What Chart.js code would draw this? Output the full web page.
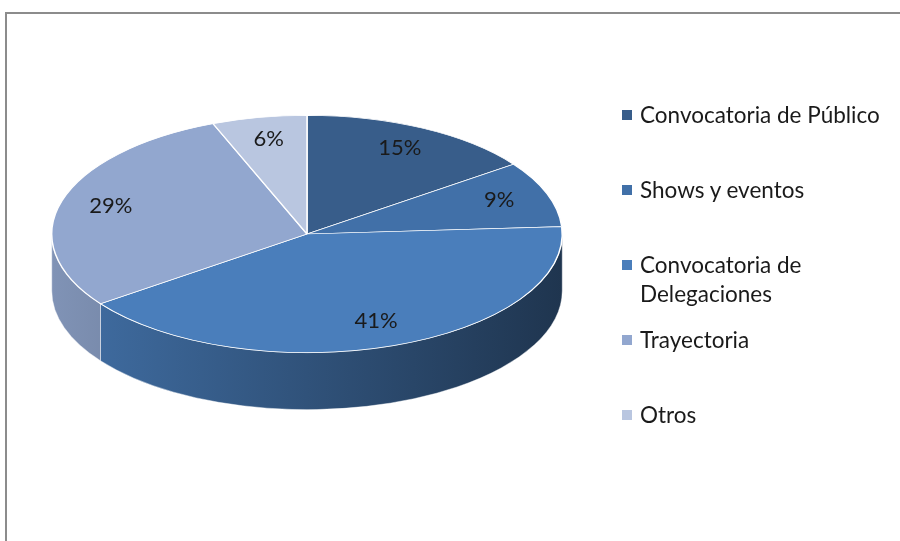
<!DOCTYPE html>
<html lang="es">
<head>
  <meta charset="UTF-8" />
  <title>Distribución</title>
  <script src="https://cdn.jsdelivr.net/npm/chart.js"></script>
  <style>
    body {
      margin: 0;
      width: 900px;
      height: 541px;
      overflow: hidden;
      background: #fff;
      font-family: Lato, "Open Sans", sans-serif;
      position: relative;
    }
    .frame {
      position: absolute;
      left: 5px;
      top: 12px;
      width: 1000px;
      height: 600px;
      border: 2px solid #8c8c8c;
      box-sizing: border-box;
    }
    #chart {
      position: absolute;
      left: 0;
      top: 0;
    }
    .legend-item {
      position: absolute;
      left: 622px;
      width: 275px;
      font-size: 22.5px;
      line-height: 29px;
      color: #1a1a1a;
    }
    .legend-item .box {
      position: absolute;
      left: 0;
      top: 10px;
      width: 10px;
      height: 10px;
    }
    .legend-item .txt {
      margin-left: 18px;
      width: 257px;
    }
  </style>
</head>
<body>
  <div class="frame"></div>
  <canvas id="chart" width="900" height="541"></canvas>
  <div id="legend"></div>

  <script>
    const labels = ['Convocatoria de Público', 'Shows y eventos', 'Convocatoria de Delegaciones', 'Trayectoria', 'Otros'];
    const values = [15, 9, 41, 29, 6];
    const colors = ['#385d8a', '#4170a8', '#4a7ebb', '#92a7cf', '#b9c6e0'];

    // tilt of the pie and thickness of its wall, in screen pixels
    const tilt = 119 / 256;
    const depth = 57;
    const centerY = 234;

    function shade(hex, f) {
      const n = parseInt(hex.slice(1), 16);
      const r = Math.round(((n >> 16) & 255) * f);
      const g = Math.round(((n >> 8) & 255) * f);
      const b = Math.round((n & 255) * f);
      return `rgb(${r},${g},${b})`;
    }

    const pie3d = {
      id: 'pie3d',
      beforeDatasetsDraw(chart) {
        const ctx = chart.ctx;
        const arcs = chart.getDatasetMeta(0).data;
        const cx = arcs[0].x, cy = arcs[0].y, R = arcs[0].outerRadius;
        ctx.save();
        ctx.translate(0, centerY);
        ctx.scale(1, tilt);
        ctx.translate(0, -cy);
        const d = depth / tilt;
        arcs.forEach((arc, i) => {
          const a0 = Math.max(arc.startAngle, 0);
          const a1 = Math.min(arc.endAngle, Math.PI);
          if (a0 >= a1) return;
          const grad = ctx.createLinearGradient(cx - R, 0, cx + R, 0);
          grad.addColorStop(0, shade(colors[i], 0.88));
          grad.addColorStop(1, shade(colors[i], 0.42));
          ctx.beginPath();
          ctx.arc(cx, cy, R, a0, a1);
          ctx.lineTo(cx + R * Math.cos(a1), cy + R * Math.sin(a1) + d);
          ctx.arc(cx, cy + d, R, a1, a0, true);
          ctx.closePath();
          ctx.fillStyle = grad;
          ctx.fill();
          ctx.strokeStyle = 'rgba(255,255,255,0.6)';
          ctx.lineWidth = 1;
          ctx.stroke();
        });
      },
      afterDatasetsDraw(chart) {
        const ctx = chart.ctx;
        ctx.restore();
        const arcs = chart.getDatasetMeta(0).data;
        const total = values.reduce((a, b) => a + b, 0);
        ctx.save();
        ctx.font = '22px Lato, "Open Sans", sans-serif';
        ctx.fillStyle = '#1a1a1a';
        ctx.textAlign = 'center';
        ctx.textBaseline = 'middle';
        arcs.forEach((arc, i) => {
          const mid = (arc.startAngle + arc.endAngle) / 2;
          const r = arc.outerRadius * 0.8;
          const x = arc.x + r * Math.cos(mid);
          const y = centerY - 2 + r * tilt * Math.sin(mid);
          ctx.fillText(Math.round(values[i] / total * 100) + '%', x, y);
        });
        ctx.restore();
      }
    };

    new Chart(document.getElementById('chart'), {
      type: 'pie',
      data: {
        labels: labels,
        datasets: [{
          data: values,
          backgroundColor: colors,
          borderColor: '#ffffff',
          borderWidth: 1.5,
          clip: false
        }]
      },
      options: {
        responsive: false,
        animation: false,
        layout: { padding: { left: 51, right: 337, top: 0, bottom: 29 } },
        plugins: {
          legend: { display: false },
          tooltip: { enabled: false }
        }
      },
      plugins: [pie3d]
    });

    const legend = document.getElementById('legend');
    labels.forEach((name, i) => {
      const item = document.createElement('div');
      item.className = 'legend-item';
      item.style.top = (100 + i * 75) + 'px';
      item.innerHTML = `<span class="box" style="background:${colors[i]}"></span><div class="txt">${name}</div>`;
      legend.appendChild(item);
    });
  </script>
</body>
</html>
